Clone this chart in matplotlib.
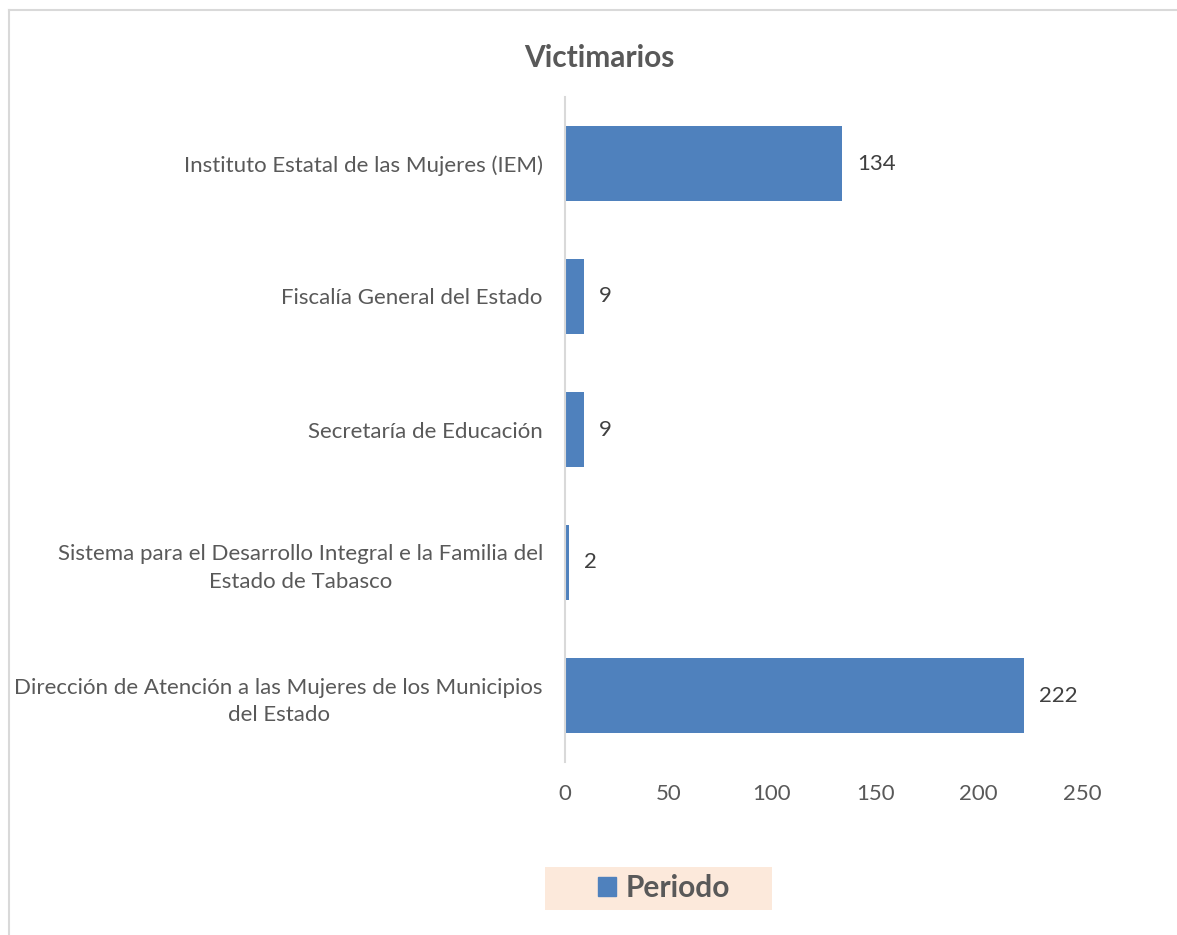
import numpy as np
import matplotlib.pyplot as plt
import matplotlib.patches as mpatches

# data (top to bottom as shown)
categories = ['Instituto Estatal de las Mujeres (IEM)',
              'Fiscalía General del Estado',
              'Secretaría de Educación',
              'Sistema para el Desarrollo Integral e la Familia del\nEstado de Tabasco',
              'Dirección de Atención a las Mujeres de los Municipios\ndel Estado']
values = [134, 9, 9, 2, 222]
xticks = [0, 50, 100, 150, 200, 250]

bar_color = '#4F81BD'
txt_gray = '#595959'
font = ['Lato', 'DejaVu Sans']
plt.rcParams['font.family'] = font

W, H = 1177, 935
fig = plt.figure(figsize=(W / 100, H / 100), dpi=100)

# outer chart border (top and left only visible)
fig.add_artist(plt.Line2D([9 / W, 1], [1 - 10 / H, 1 - 10 / H], color='#D9D9D9', lw=1.5))
fig.add_artist(plt.Line2D([9 / W, 9 / W], [0, 1 - 10 / H], color='#D9D9D9', lw=1.5))

ax = fig.add_axes([565 / W, (H - 762) / H, (1082 - 565) / W, (762 - 97) / H])
y = np.arange(len(categories))
ax.barh(y, values, height=0.56, color=bar_color)
ax.set_ylim(len(categories) - 0.5, -0.5)
ax.set_xlim(0, 250)
ax.set_xticks(xticks)
ax.set_yticks(y)
ax.set_yticklabels(categories, fontsize=16, color=txt_gray, multialignment='center',
                   linespacing=1.45)
ax.tick_params(axis='both', length=0, colors=txt_gray, labelsize=16)
ax.tick_params(axis='y', pad=16)
ax.tick_params(axis='x', pad=16)
for s in ['top', 'right', 'bottom']:
    ax.spines[s].set_visible(False)
ax.spines['left'].set_color('#D9D9D9')
ax.spines['left'].set_linewidth(1.5)

for yi, v in zip(y, values):
    ax.annotate(str(v), (v, yi), xytext=(11, 0), textcoords='offset points',
                va='center', ha='left', fontsize=16, color='#404040')

fig.text(599 / W, 1 - 58 / H, 'Victimarios', ha='center', va='center',
         fontsize=21.5, fontweight='bold', color=txt_gray)

# legend
fig.patches.append(mpatches.Rectangle((545 / W, 1 - 910 / H), (772 - 545) / W, 43 / H,
                                      transform=fig.transFigure, facecolor='#FCE9DB',
                                      edgecolor='none', zorder=0))
handle = mpatches.Patch(color=bar_color, label='Periodo')
fig.legend(handles=[handle], loc='center', bbox_to_anchor=(664 / W, 1 - 888 / H),
           frameon=False, prop={'size': 21.5, 'weight': 'bold'}, labelcolor=txt_gray,
           handlelength=0.6, handleheight=0.6, handletextpad=0.3)

fig.savefig('out.png', dpi=100)
